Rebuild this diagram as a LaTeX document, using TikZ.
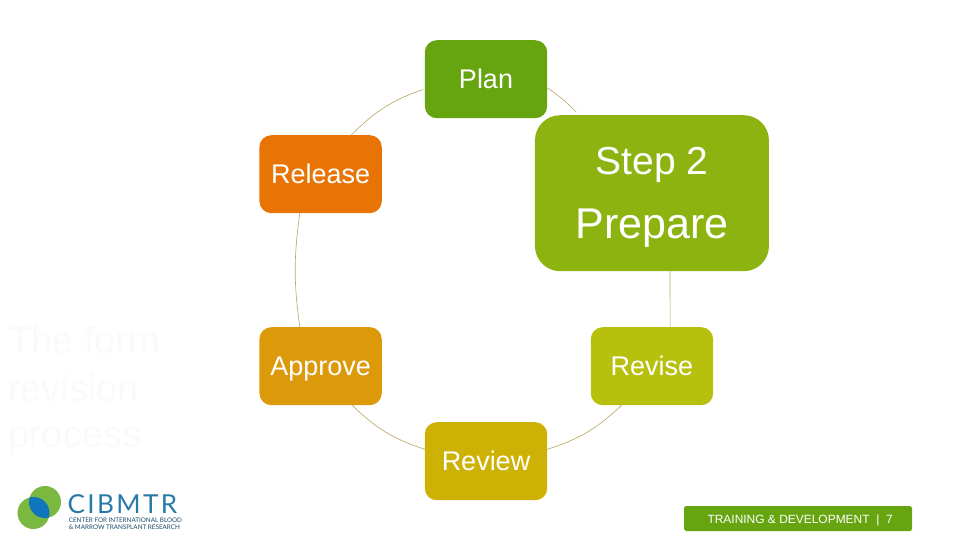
\documentclass[tikz,border=0pt]{standalone}
\usepackage{fontspec}
\setmainfont{Liberation Sans}
\newfontfamily\logofont[LetterSpace=9]{Lato}
\newfontfamily\logotagfont{Lato}
\usepackage{xcolor}
\usetikzlibrary{arrows.meta, positioning, calc}

\definecolor{plangreen}{HTML}{66A50F}
\definecolor{prepgreen}{HTML}{8CB30F}
\definecolor{revisegreen}{HTML}{B7C00C}
\definecolor{reviewgold}{HTML}{CDB205}
\definecolor{approveamber}{HTML}{DC9A0B}
\definecolor{releaseorange}{HTML}{E97406}
\definecolor{arcline}{HTML}{B9A765}
\definecolor{logogreen}{HTML}{7AB840}
\definecolor{logoblue}{HTML}{0F75BC}
\definecolor{logotext}{HTML}{2A7AA8}

\begin{document}
\begin{tikzpicture}[
    stage/.style={
        rectangle,
        rounded corners=0.2cm,
        minimum width=2.04cm,
        minimum height=1.3cm,
        inner sep=0pt,
        outer sep=0pt,
        align=center,
        text=white,
        text height=0.38cm,
        text depth=0.08cm,
        font=\fontsize{12.8}{15}\selectfont
    },
    bigstage/.style={
        stage,
        rounded corners=0.42cm,
        minimum width=3.9cm,
        minimum height=2.6cm,
        text height=,
        text depth=
    },
    arcline/.style={draw=arcline, line width=0.3pt},
    heading/.style={
        anchor=west,
        inner sep=0pt,
        text=white!98!black,
        font=\fontsize{18}{22}\selectfont
    },
    footer/.style={
        rectangle,
        rounded corners=0.03cm,
        minimum width=3.8cm,
        minimum height=0.417cm,
        inner sep=0pt,
        fill=plangreen,
        text=white,
        text height=0.2cm,
        text depth=0.04cm,
        font=\fontsize{5.67}{7}\selectfont
    }
]
\useasboundingbox (0,0) rectangle (16,9);

% Process cycle
\node[stage, fill=plangreen] (plan) at (8.1,7.68) {Plan};
\node[stage, below left=0.283cm and 0.717cm of plan, fill=releaseorange] (release) {Release};
\node[stage, below=1.9cm of release, fill=approveamber] (approve) {Approve};
\node[stage, right=3.483cm of approve, fill=revisegreen] (revise) {Revise};
\node[bigstage, above=0.933cm of revise, fill=prepgreen] (prepare) {%
    \rule{0pt}{0.6cm}{\fontsize{18.5}{22}\selectfont Step 2}\\[0.4cm]
    {\fontsize{20.4}{24}\selectfont Prepare}};
\node[stage, below=5.067cm of plan, fill=reviewgold] (review) {Review};

% Arcs between the stages
\draw[arcline, shorten >=0.07cm] (plan.-8) to[bend left=6] (prepare.133);
\draw[arcline] (prepare.-77) to (revise.65);
\draw[arcline] (revise.-128.5) to[bend left=13] (review.11);
\draw[arcline] (review.169) to[bend left=13] (approve.-51.5);
\draw[arcline] (approve.118) to[bend left=8] (release.-118);
\draw[arcline, shorten >=0.03cm] (release.52) to[bend left=13] (plan.189);

% Title
\node[heading] (title1) at (0.13,3.33) {The form};
\node[heading, below=0.31cm of title1.south west, anchor=north west] (title2) {revision};
\node[heading, below=0.41cm of title2.south west, anchor=north west] (title3) {process};

% Logo
\fill[logogreen] (0.75,0.633) circle (0.267);
\fill[logogreen] (0.558,0.45) circle (0.267);
\begin{scope}
    \clip (0.75,0.633) circle (0.267);
    \fill[logoblue] (0.558,0.45) circle (0.267);
\end{scope}
\node[anchor=west, inner sep=0pt, text=logotext, font=\logofont\fontsize{12.4}{14}\selectfont] (logoname) at (1.12,0.59) {CIBMTR};
\node[anchor=north west, inner sep=0pt, align=left, text=logotext!60!black, font=\logotagfont\fontsize{3}{3.1}\selectfont] (logotag) at (1.14,0.37) {CENTER FOR INTERNATIONAL BLOOD\\\& MARROW TRANSPLANT RESEARCH};

% Footer
\node[footer] (foot) at (13.3,0.358) {\hspace*{2pt}TRAINING \& DEVELOPMENT~~|~~7};

\end{tikzpicture}
\end{document}
